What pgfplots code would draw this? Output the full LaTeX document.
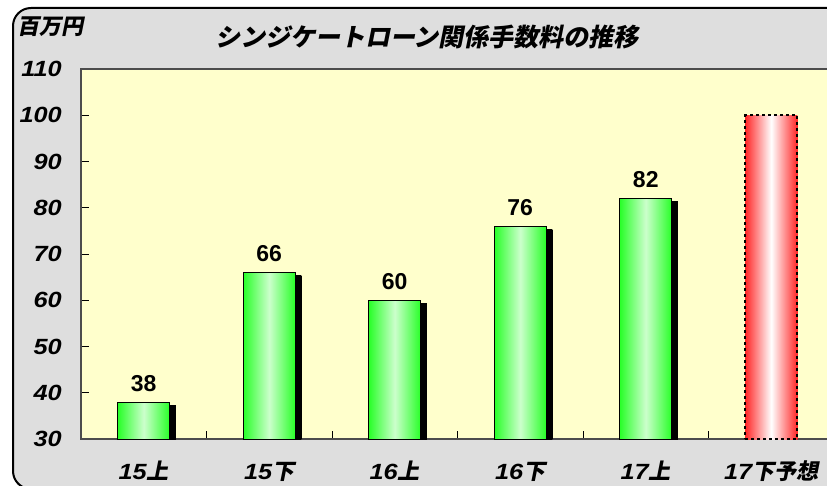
\documentclass[border=0pt]{standalone}
\usepackage{pgfplots}
\pgfplotsset{compat=1.18}
\usepackage{fontspec}
\setmainfont{Liberation Sans}
\newfontfamily\numfont{Liberation Sans}[FakeStretch=1.15]
\newfontfamily\jp{Noto Sans CJK JP}[FakeSlant=0.2]
\usetikzlibrary{shadows}
\definecolor{bg}{RGB}{222,222,222}
\definecolor{plotbg}{RGB}{255,255,204}
\definecolor{gedge}{RGB}{40,255,40}
\definecolor{gmid}{RGB}{204,255,204}
\definecolor{redge}{RGB}{255,40,40}
\pgfplotsset{
 gbar/.style={ybar, bar width=52pt, bar shift=0pt,
  left color=gedge, right color=gedge, middle color=gmid,
  draw=black, line width=0.8pt,
  drop shadow={shadow xshift=6pt, shadow yshift=-3pt, left color=black, right color=black, middle color=black, draw=none, opacity=1},
  nodes near coords,
  every node near coord/.append style={font=\fontsize{23}{23}\selectfont\bfseries, text=black, anchor=south, inner sep=0pt, yshift=10pt}},
}
\begin{document}
\begin{tikzpicture}
\path[use as bounding box] (0pt,0pt) rectangle (827pt,485pt);
\clip (0pt,0pt) rectangle (827pt,485pt);
\fill[white] (0pt,0pt) rectangle (827pt,485pt);
\draw[line width=2pt, fill=bg, rounded corners=18pt] (13pt,-4pt) rectangle (850pt,477pt);
\node[font=\jp\bfseries\fontsize{25}{25}\selectfont] at (427pt,448pt) {シンジケートローン関係手数料の推移};
\node[font=\jp\bfseries\fontsize{22}{22}\selectfont] at (50pt,458pt) {百万円};
\begin{axis}[
 at={(81pt,46pt)}, anchor=south west, scale only axis,
 width=753pt, height=370pt,
 xmin=-0.5, xmax=5.5, ymin=30, ymax=110,
 axis background/.style={fill=plotbg},
 axis line style={line width=1.2pt, draw=black!70},
 xtick={0,...,5},
 xticklabels={15{\jp 上},15{\jp 下},16{\jp 上},16{\jp 下},17{\jp 上},17{\jp 下予想}},
 major x tick style={draw=none},
 minor xtick={0.5,1.5,2.5,3.5,4.5},
 ytick={30,40,...,110},
 tick align=inside, xtick pos=bottom, ytick pos=left,
 major tick length=8pt, minor tick length=8pt,
 tick style={black, line width=0.8pt},
 /pgf/number format/assume math mode=true,
 ticklabel style={font=\numfont\fontsize{22}{22}\selectfont\bfseries\itshape},
 yticklabel style={anchor=east, inner sep=0pt, xshift=-19pt},
 xticklabel style={anchor=base, inner sep=0pt, yshift=-40pt},
]
\addplot[gbar] coordinates {(0,38)};
\addplot[gbar] coordinates {(1,66)};
\addplot[gbar] coordinates {(2,60)};
\addplot[gbar] coordinates {(3,76)};
\addplot[gbar] coordinates {(4,82)};
\addplot[ybar, bar width=52pt, bar shift=0pt,
  left color=redge, right color=redge, middle color=white,
  draw=black, line width=2pt, dash pattern=on 3pt off 3pt]
  coordinates {(5,100)};
\end{axis}
\end{tikzpicture}
\end{document}
